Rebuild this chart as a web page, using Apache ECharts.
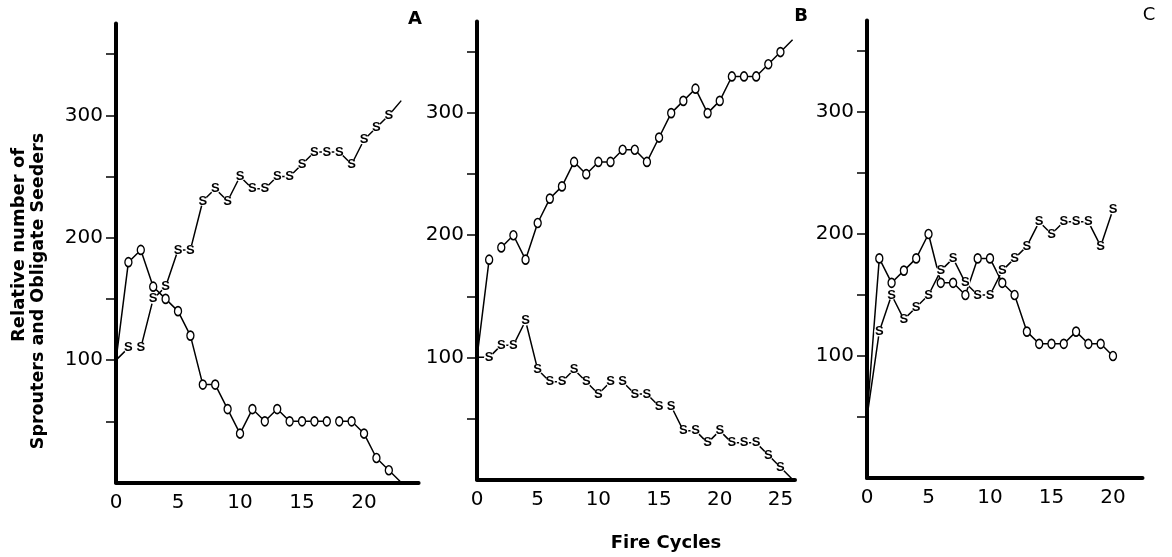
<!DOCTYPE html>
<html>
<head>
<meta charset="utf-8">
<script src="https://cdn.jsdelivr.net/npm/echarts@6/dist/echarts.min.js"></script>
<style>
html, body { margin: 0; padding: 0; background: #fff; }
#main { width: 1172px; height: 557px; }
</style>
</head>
<body>
<div id="main"></div>
<script>
// values per fire cycle (index = cycle 0, 1, 2 ...)
// O = obligate seeders, S = sprouters
var seedersA   = [100, 180, 190, 160, 150, 140, 120, 80, 80, 60, 40, 60, 50, 60, 50, 50, 50, 50, 50, 50, 40, 20, 10, 0];
var sproutersA = [100, 110, 110, 150, 160, 190, 190, 230, 240, 230, 250, 240, 240, 250, 250, 260, 270, 270, 270, 260, 280, 290, 300, 312];
var seedersB   = [100, 180, 190, 200, 180, 210, 230, 240, 260, 250, 260, 260, 270, 270, 260, 280, 300, 310, 320, 300, 310, 330, 330, 330, 340, 350, 360];
var sproutersB = [100, 100, 110, 110, 130, 90, 80, 80, 90, 80, 70, 80, 80, 70, 70, 60, 60, 40, 40, 30, 40, 30, 30, 30, 20, 10, 0];
var seedersC   = [50, 180, 160, 170, 180, 200, 160, 160, 150, 180, 180, 160, 150, 120, 110, 110, 110, 120, 110, 110, 100];
var sproutersC = [50, 120, 150, 130, 140, 150, 170, 180, 160, 150, 150, 170, 180, 190, 210, 200, 210, 210, 210, 190, 220];

// cycles drawn without a letter, and cycles after which the line breaks
var unmarked = { seedersA: [0, 23], sproutersA: [0, 23], seedersB: [0, 26], sproutersB: [0, 26], seedersC: [0], sproutersC: [0] };
var breaks   = { seedersA: [17], sproutersA: [1], seedersB: [1], sproutersB: [11, 15], seedersC: [], sproutersC: [] };

var xTicks = [0, 5, 10, 15, 20, 25];
var yLabels = [100, 200, 300];
var yTicks = [50, 100, 150, 200, 250, 300, 350];
var panelNames = ['A', 'B', 'C'];

var FONT = '"DejaVu Sans", sans-serif';

function buildData(vals, key) {
  var out = [];
  vals.forEach(function (v, i) {
    var item = { value: [i, v] };
    if (unmarked[key].indexOf(i) >= 0) {
      item.symbol = 'none';
      item.label = { show: false };
    }
    out.push(item);
    if (breaks[key].indexOf(i) >= 0) out.push({ value: [i + 0.5, '-'] });
  });
  return out;
}

function seedSeries(vals, key, idx) {
  return {
    type: 'line', xAxisIndex: idx, yAxisIndex: idx,
    data: buildData(vals, key),
    connectNulls: false,
    symbol: 'path://M4,0A4,5 0 1,1 4,10A4,5 0 1,1 4,0Z',
    symbolSize: [7, 9],
    showAllSymbol: true,
    lineStyle: { color: '#000', width: 1.5 },
    itemStyle: { color: '#fff', borderColor: '#000', borderWidth: 1.5 },
    emphasis: { disabled: true },
    animation: false
  };
}

function sproutSeries(vals, key, idx) {
  return {
    type: 'line', xAxisIndex: idx, yAxisIndex: idx,
    data: buildData(vals, key),
    connectNulls: false,
    symbol: 'circle',
    symbolSize: 10,
    showAllSymbol: true,
    lineStyle: { color: '#000', width: 1.5 },
    itemStyle: { color: '#fff', borderWidth: 0 },
    label: {
      show: true, position: 'inside', formatter: 'S',
      color: '#000', fontFamily: '"Liberation Sans", sans-serif', fontWeight: 'bold', fontSize: 13
    },
    emphasis: { disabled: true },
    animation: false
  };
}

var grids = [
  { left: 116, top: 23.5, width: 302.6, height: 459 },
  { left: 477, top: 21.5, width: 318, height: 458 },
  { left: 867, top: 20.5, width: 275.5, height: 457.5 }
];
var xMax = [24.4, 26.2, 22.4];

var xAxes = grids.map(function (g, i) {
  return {
    gridIndex: i, type: 'value', min: 0, max: xMax[i],
    axisLine: { show: true, lineStyle: { color: '#000', width: 4 } },
    axisTick: { show: false },
    splitLine: { show: false },
    axisLabel: {
      customValues: xTicks.filter(function (t) { return t <= xMax[i]; }),
      color: '#000', fontFamily: FONT, fontSize: 20, margin: 10
    }
  };
});

var yAxes = grids.map(function (g, i) {
  return {
    gridIndex: i, type: 'value', min: 0, max: 375,
    axisLine: { show: true, lineStyle: { color: '#000', width: 4 } },
    axisTick: { show: true, customValues: yTicks, length: 10, lineStyle: { color: '#000', width: 1.5 } },
    splitLine: { show: false },
    axisLabel: { customValues: yLabels, color: '#000', fontFamily: FONT, fontSize: 20, margin: 13 }
  };
});

var series = [
  seedSeries(seedersA, 'seedersA', 0), sproutSeries(sproutersA, 'sproutersA', 0),
  seedSeries(seedersB, 'seedersB', 1), sproutSeries(sproutersB, 'sproutersB', 1),
  seedSeries(seedersC, 'seedersC', 2), sproutSeries(sproutersC, 'sproutersC', 2)
];

function txt(x, y, s, size, weight, rot) {
  return {
    type: 'text', x: x, y: y, rotation: rot || 0,
    style: {
      text: s, fill: '#000', fontFamily: FONT, fontSize: size, fontWeight: weight,
      align: 'center', verticalAlign: 'middle', textAlign: 'center', textVerticalAlign: 'middle'
    }
  };
}

var myChart = echarts.init(document.getElementById('main'));
myChart.setOption({
  backgroundColor: '#fff',
  animation: false,
  grid: grids,
  xAxis: xAxes,
  yAxis: yAxes,
  series: series,
  graphic: [
    txt(415, 19, panelNames[0], 18, 'bold'),
    txt(801, 16, panelNames[1], 18, 'bold'),
    txt(1149, 15, panelNames[2], 18, 'normal'),
    txt(666, 543, 'Fire Cycles', 18, 'bold'),
    txt(19, 245, 'Relative number of', 18, 'bold', Math.PI / 2),
    txt(38, 291, 'Sprouters and Obligate Seeders', 17.5, 'bold', Math.PI / 2)
  ]
});
window.addEventListener('resize', function () { myChart.resize(); });
</script>
</body>
</html>
